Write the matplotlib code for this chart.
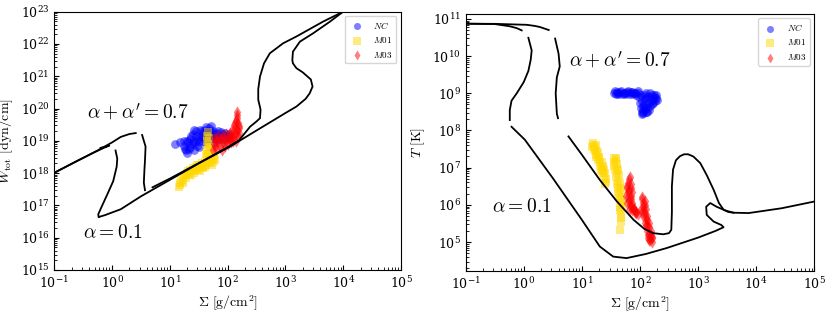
import numpy as np
import matplotlib
matplotlib.use('Agg')
import matplotlib.pyplot as plt
from matplotlib.ticker import LogLocator

plt.rcParams['mathtext.fontset'] = 'cm'
plt.rcParams['font.family'] = 'serif'
plt.rcParams['font.serif'] = ['DejaVu Serif']
plt.rcParams['xtick.direction'] = 'in'
plt.rcParams['ytick.direction'] = 'in'

# ---- S-curves, W_tot vs Sigma (log10 values) ----
# alpha = 0.1
w01_hot_s = [-1.0, -0.6, -0.3, -0.12, -0.05, -0.2]
w01_hot_w = [18.01, 18.38, 18.65, 18.80, 18.85, 18.78]
w01_mid_s = [0.06, 0.09, 0.08, 0.02, -0.08, -0.17, -0.24, -0.23]
w01_mid_w = [18.70, 18.45, 18.20, 17.75, 17.35, 17.00, 16.72, 16.64]
w01_low_s = [-0.23, -0.12, 0.15, 0.5, 1.0, 1.5, 2.04, 2.5, 3.0, 3.19, 3.35, 3.42, 3.47,
             3.44, 3.30, 3.19, 3.13, 3.12, 3.13, 3.25, 3.48, 3.77, 4.0]
w01_low_w = [16.64, 16.70, 16.88, 17.28, 17.79, 18.30, 18.82, 19.32, 19.86, 20.06, 20.30, 20.47, 20.68,
             20.90, 21.12, 21.25, 21.40, 21.50, 21.76, 22.07, 22.33, 22.69, 23.0]
# alpha + alpha' = 0.7
w07_hot_s = [-1.0, -0.6, -0.25, 0.0, 0.15, 0.30, 0.41]
w07_hot_w = [18.01, 18.38, 18.70, 18.95, 19.12, 19.21, 19.24]
w07_mid_s = [0.52, 0.58, 0.57, 0.56, 0.55, 0.57]
w07_mid_w = [19.18, 18.82, 18.40, 18.10, 17.70, 17.47]
w07_low_s = [0.70, 1.0, 1.5, 2.0, 2.2, 2.39, 2.5, 2.56, 2.57, 2.55, 2.53, 2.53, 2.56, 2.63,
             2.73, 2.96, 3.19, 3.65, 4.0]
w07_low_w = [17.56, 17.83, 18.31, 18.80, 19.02, 19.44, 19.60, 19.70, 19.96, 20.12, 20.27, 20.60, 20.99, 21.40,
             21.71, 22.02, 22.23, 22.69, 23.0]

# ---- S-curves, T vs Sigma ----
t01_hot_s = [-1.0, -0.5, -0.24, -0.12, -0.035]
t01_hot_t = [10.87, 10.86, 10.80, 10.75, 10.69]
t01_mid_s = [0.08, 0.137, 0.12, 0.08, 0.0, -0.12, -0.21, -0.24, -0.24]
t01_mid_t = [10.49, 10.15, 9.90, 9.60, 9.30, 9.00, 8.80, 8.55, 8.28]
t01_low_s = [-0.21, 0.02, 0.5, 1.0, 1.31, 1.54, 1.77, 2.1, 2.46, 3.0, 3.3, 3.44, 3.40, 3.27, 3.15,
             3.14, 3.21, 3.32, 3.47, 3.61, 3.87, 4.44, 5.0]
t01_low_t = [8.10, 7.75, 6.72, 5.60, 4.88, 4.61, 4.57, 4.68, 4.84, 5.12, 5.30, 5.40, 5.46, 5.55, 5.73,
             5.95, 6.05, 5.95, 5.85, 5.79, 5.78, 5.91, 6.09]
t07_hot_s = [-1.0, -0.5, 0.05, 0.19, 0.28, 0.43]
t07_hot_t = [10.87, 10.865, 10.84, 10.81, 10.78, 10.70]
t07_mid_s = [0.54, 0.60, 0.62, 0.57, 0.55, 0.57, 0.59]
t07_mid_t = [10.47, 10.06, 9.72, 9.43, 9.00, 8.45, 8.33]
t07_low_s = [0.77, 1.0, 1.31, 1.6, 1.89, 2.08, 2.23, 2.40, 2.50, 2.54, 2.55, 2.55, 2.57, 2.62, 2.69,
             2.76, 2.83, 2.92, 3.04, 3.15, 3.27, 3.36, 3.44, 3.52, 3.61]
t07_low_t = [7.84, 7.35, 6.67, 6.10, 5.60, 5.35, 5.24, 5.21, 5.24, 5.33, 5.80, 6.50, 6.95, 7.20, 7.31,
             7.36, 7.36, 7.30, 7.12, 6.80, 6.40, 6.05, 5.87, 5.81, 5.79]

# ---- simulation points, left panel (log Sigma, log W) ----
nc_w_s = [1.09, 1.17, 1.25, 1.28, 1.30, 1.33, 1.35, 1.38, 1.40, 1.42, 1.45, 1.48, 1.50, 1.52, 1.55, 1.58,
          1.60, 1.62, 1.65, 1.68, 1.70, 1.72, 1.75, 1.78, 1.80, 1.83, 1.86, 1.90, 1.93, 1.96, 2.00, 2.03,
          1.30, 1.36, 1.44, 1.52, 1.58, 1.64, 1.70, 1.76,
          1.25, 1.35, 1.40, 1.45, 1.50, 1.55, 1.60, 1.65, 1.70, 1.75, 1.80, 1.85, 1.88, 1.95, 2.02, 1.47,
          1.42, 1.62, 1.32, 1.27]
nc_w_w = [18.90, 18.95, 18.85, 18.70, 18.62, 18.75, 19.05, 18.90, 19.20, 18.70, 19.30, 19.05, 18.80, 19.35,
          19.15, 19.00, 19.35, 18.95, 19.25, 19.40, 19.10, 19.46, 19.30, 19.20, 19.05, 19.30, 19.15, 19.20,
          19.05, 19.25, 19.15, 19.10, 19.00, 19.15, 18.95, 19.10, 19.25, 19.10, 19.20, 18.95,
          19.00, 18.80, 18.95, 19.15, 19.00, 19.30, 19.15, 19.05, 19.30, 19.15, 19.25, 19.05, 19.28, 19.15,
          19.22, 18.85, 19.35, 19.42, 18.95, 18.75]
m01_w_s = [1.15, 1.17, 1.20, 1.22, 1.25, 1.28, 1.30, 1.33, 1.35, 1.38, 1.40, 1.42, 1.45, 1.48, 1.50, 1.53,
           1.55, 1.58, 1.60, 1.62, 1.64, 1.65, 1.66, 1.67, 1.66, 1.68, 1.70, 1.72, 1.75, 1.77, 1.78, 1.63,
           1.69, 1.65,
           1.18, 1.23, 1.27, 1.32, 1.37, 1.43, 1.47, 1.52, 1.57, 1.60, 1.66, 1.70, 1.73, 1.76, 1.66, 1.67,
           1.65, 1.55]
m01_w_w = [17.58, 17.70, 17.80, 17.68, 17.90, 17.85, 18.00, 17.95, 18.10, 18.05, 18.15, 18.00, 18.20, 18.10,
           18.25, 18.15, 18.30, 18.20, 18.35, 18.25, 18.50, 18.70, 18.90, 19.10, 19.28, 18.40, 18.30, 18.45,
           18.35, 18.55, 18.40, 18.60, 18.80, 19.00,
           17.62, 17.75, 17.95, 18.05, 17.95, 18.10, 18.25, 18.05, 18.15, 18.20, 18.30, 18.50, 18.25, 18.45,
           18.60, 18.80, 19.15, 18.20]
m03_w_s = [1.75, 1.76, 1.77, 1.80, 1.82, 1.84, 1.86, 1.88, 1.90, 1.92, 1.94, 1.96, 1.98, 2.00, 2.02, 2.04,
           2.06, 2.08, 2.10, 2.11, 2.12, 2.14, 2.15, 2.16, 2.17, 2.18, 2.19, 2.17, 2.13, 2.20,
           1.78, 1.80, 1.85, 1.90, 1.95, 2.00, 2.05, 2.08, 2.12, 2.15, 2.18, 2.16, 2.20, 2.09]
m03_w_w = [18.70, 18.90, 19.10, 18.75, 19.00, 19.15, 18.80, 19.05, 18.70, 18.95, 19.10, 18.85, 19.20, 18.90,
           19.05, 19.25, 18.95, 19.35, 19.10, 19.50, 19.25, 19.00, 19.60, 19.35, 19.70, 19.15, 19.45, 19.88,
           19.55, 19.25,
           18.85, 19.05, 18.95, 19.15, 18.95, 19.10, 19.10, 19.20, 19.40, 19.20, 19.55, 19.80, 19.40, 19.00]

# ---- simulation points, right panel (log Sigma, log T) ----
nc_t_s = [1.55, 1.58, 1.60, 1.63, 1.66, 1.69, 1.72, 1.75, 1.78, 1.81, 1.84, 1.87, 1.90, 1.93, 1.96, 1.98,
          2.00, 2.02, 2.03, 2.05, 2.07, 2.09, 2.10, 2.12, 2.14, 2.16, 2.18, 2.20, 2.22, 2.24, 2.26, 2.28,
          2.29, 2.06, 2.10, 2.15,
          1.57, 1.62, 1.68, 1.74, 1.80, 1.86, 1.92, 1.97, 2.01, 2.04, 2.06, 2.08, 2.11, 2.13, 2.17, 2.19,
          2.21, 2.23, 2.25, 2.27, 2.04, 2.08]
nc_t_t = [9.00, 8.97, 9.03, 8.99, 9.04, 8.98, 9.02, 8.97, 9.03, 8.98, 9.04, 8.99, 9.02, 8.96, 9.05, 8.90,
          8.75, 8.60, 8.45, 8.55, 8.70, 8.85, 9.00, 8.60, 8.75, 8.90, 9.02, 8.70, 8.85, 8.95, 8.78, 8.88,
          8.82, 8.48, 8.50, 8.55,
          9.05, 9.00, 9.05, 9.01, 9.05, 9.03, 9.00, 9.02, 8.95, 8.80, 8.65, 8.95, 8.90, 8.50, 8.65, 8.80,
          8.95, 8.75, 8.90, 8.95, 8.50, 8.60]
m01_t_s = [1.20, 1.18, 1.22, 1.25, 1.24, 1.28, 1.27, 1.30, 1.32, 1.34, 1.35, 1.37, 1.38, 1.40, 1.40, 1.42,
           1.55, 1.58, 1.60, 1.57, 1.62, 1.59, 1.64, 1.61, 1.66, 1.63, 1.67, 1.65, 1.68, 1.66, 1.69, 1.67,
           1.68, 1.66,
           1.19, 1.21, 1.23, 1.26, 1.25, 1.29, 1.31, 1.33, 1.36, 1.37, 1.39, 1.41, 1.56, 1.59, 1.61, 1.60,
           1.63, 1.62, 1.65, 1.64, 1.67, 1.66, 1.68, 1.56]
m01_t_t = [7.66, 7.55, 7.45, 7.60, 7.35, 7.40, 7.20, 7.25, 7.05, 7.15, 6.90, 7.00, 6.75, 6.85, 6.55, 6.70,
           7.15, 7.25, 7.10, 6.95, 6.95, 6.75, 6.80, 6.55, 6.60, 6.35, 6.40, 6.15, 6.20, 5.95, 6.00, 5.75,
           5.55, 5.33,
           7.60, 7.50, 7.55, 7.45, 7.30, 7.30, 7.15, 6.95, 7.05, 6.85, 6.95, 6.62, 7.05, 7.20, 7.00, 6.85,
           6.65, 6.45, 6.45, 6.25, 6.05, 5.85, 5.65, 7.25]
m03_t_s = [1.83, 1.80, 1.85, 1.77, 1.82, 1.87, 1.76, 1.80, 1.85, 1.78, 1.83, 1.88, 1.81, 1.86, 1.90, 1.93,
           1.96, 2.03, 2.05, 2.08, 2.02, 2.07, 2.10, 2.05, 2.10, 2.13, 2.08, 2.13, 2.16, 2.12, 2.16, 2.19,
           2.14, 2.18, 2.21, 2.20,
           1.81, 1.78, 1.84, 1.79, 1.84, 1.82, 1.87, 1.84, 1.89, 1.91, 1.94, 2.04, 2.06, 2.09, 2.04, 2.09,
           2.12, 2.11, 2.15, 2.14, 2.17, 2.19, 2.16, 2.20]
m03_t_t = [6.75, 6.60, 6.55, 6.45, 6.40, 6.35, 6.25, 6.20, 6.15, 6.05, 6.00, 5.95, 5.85, 5.85, 5.90, 5.80,
           5.75, 6.20, 6.05, 6.10, 5.90, 5.85, 5.90, 5.70, 5.65, 5.70, 5.50, 5.45, 5.50, 5.30, 5.25, 5.30,
           5.10, 5.05, 5.15, 5.00,
           6.70, 6.50, 6.45, 6.35, 6.25, 6.10, 6.05, 5.95, 5.85, 5.82, 5.78, 6.15, 5.95, 6.00, 5.80, 5.75,
           5.60, 5.45, 5.40, 5.20, 5.15, 5.20, 5.05, 5.10]


def p(a):
    return 10.0 ** np.array(a)


fig = plt.figure(figsize=(8.3, 3.15), dpi=100)
ax1 = fig.add_axes([0.0654, 0.143, 0.4177, 0.820])
ax2 = fig.add_axes([0.561, 0.140, 0.420, 0.816])

lw = 1.3
sc = dict(alpha=0.5, s=40, linewidths=0)

# left: W_tot
for xs, ys in [(w01_hot_s, w01_hot_w), (w01_mid_s, w01_mid_w), (w01_low_s, w01_low_w),
               (w07_hot_s, w07_hot_w), (w07_mid_s, w07_mid_w), (w07_low_s, w07_low_w)]:
    ax1.plot(p(xs), p(ys), color='k', lw=lw)
ax1.scatter(p(nc_w_s), p(nc_w_w), color='blue', marker='o', label=r'$NC$', **sc)
ax1.scatter(p(m01_w_s), p(m01_w_w), color='gold', marker='s', label=r'$M01$', **sc)
ax1.scatter(p(m03_w_s), p(m03_w_w), color='red', marker='d', label=r'$M03$', **sc)
ax1.text(10 ** 0.45, 10 ** 19.9, r"$\alpha+\alpha'=0.7$", fontsize=14, ha='center', va='center')
ax1.text(10 ** 0.02, 10 ** 16.15, r"$\alpha=0.1$", fontsize=14, ha='center', va='center')
ax1.set_xscale('log')
ax1.set_yscale('log')
ax1.set_xlim(1e-1, 1e5)
ax1.set_ylim(1e15, 1e23)
ax1.set_xlabel(r'$\Sigma\ [\mathrm{g/cm^2}]$', fontsize=10, labelpad=2)
ax1.set_ylabel(r'$W_{\rm tot}\ [\mathrm{dyn/cm}]$', fontsize=10)
ax1.yaxis.set_major_locator(LogLocator(base=10, numticks=20))
ax1.yaxis.set_minor_locator(LogLocator(base=10, subs=np.arange(2, 10), numticks=20))
ax1.legend(loc='upper right', fontsize=6.5, markerscale=0.8)

# right: T
for xs, ys in [(t01_hot_s, t01_hot_t), (t01_mid_s, t01_mid_t), (t01_low_s, t01_low_t),
               (t07_hot_s, t07_hot_t), (t07_mid_s, t07_mid_t), (t07_low_s, t07_low_t)]:
    ax2.plot(p(xs), p(ys), color='k', lw=lw)
ax2.scatter(p(nc_t_s), p(nc_t_t), color='blue', marker='o', label=r'$NC$', **sc)
ax2.scatter(p(m01_t_s), p(m01_t_t), color='gold', marker='s', label=r'$M01$', **sc)
ax2.scatter(p(m03_t_s), p(m03_t_t), color='red', marker='d', label=r'$M03$', **sc)
ax2.text(10 ** 1.66, 10 ** 9.9, r"$\alpha+\alpha'=0.7$", fontsize=14, ha='center', va='center')
ax2.text(10 ** -0.03, 10 ** 5.95, r"$\alpha=0.1$", fontsize=14, ha='center', va='center')
ax2.set_xscale('log')
ax2.set_yscale('log')
ax2.set_xlim(1e-1, 1e5)
ax2.set_ylim(10 ** 4.226, 10 ** 11.134)
ax2.set_xlabel(r'$\Sigma\ [\mathrm{g/cm^2}]$', fontsize=10, labelpad=2)
ax2.set_ylabel(r'$T\ [\mathrm{K}]$', fontsize=10)
ax2.yaxis.set_major_locator(LogLocator(base=10, numticks=20))
ax2.yaxis.set_minor_locator(LogLocator(base=10, subs=np.arange(2, 10), numticks=20))
ax2.legend(loc='upper right', fontsize=6.5, markerscale=0.8)

for ax in (ax1, ax2):
    ax.xaxis.set_major_locator(LogLocator(base=10, numticks=20))
    ax.xaxis.set_minor_locator(LogLocator(base=10, subs=np.arange(2, 10), numticks=20))
    ax.tick_params(labelsize=9)

fig.savefig('out.png', dpi=100)
